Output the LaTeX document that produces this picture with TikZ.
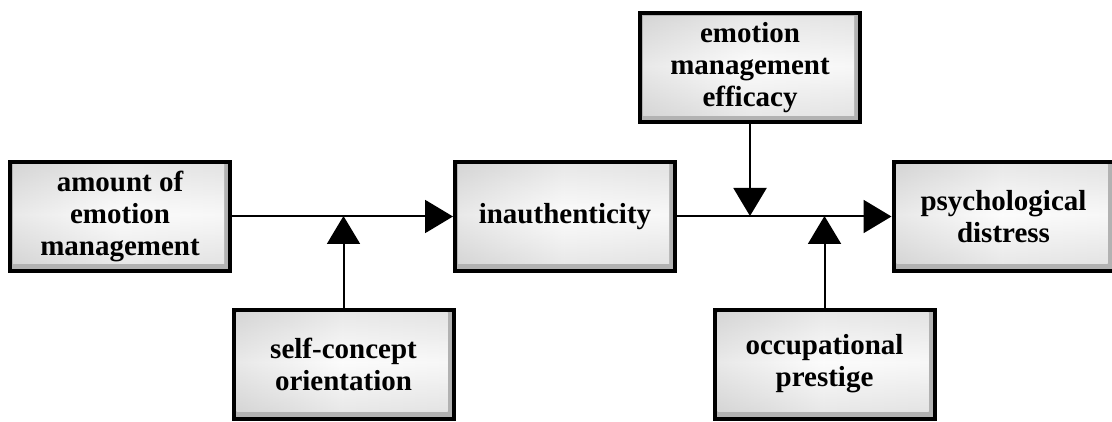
\documentclass[tikz,border=0pt]{standalone}
\usepackage{fontspec}
\setmainfont{Liberation Serif}
\usetikzlibrary{arrows.meta}
\tikzset{
  box/.style={draw=black, line width=4pt, minimum width=220pt, minimum height=109pt,
    inner sep=0pt, align=center, font=\fontsize{29}{32}\selectfont\bfseries,
    path picture={
      \fill[gray!60] (path picture bounding box.south west) rectangle (path picture bounding box.north east);
      \shade[left color=gray!35, right color=gray!12, middle color=gray!5]
        ([shift={(3pt,7pt)}]path picture bounding box.south west) rectangle ([shift={(-6pt,-3pt)}]path picture bounding box.north east);
      \shade[top color=gray!30, bottom color=gray!30, middle color=white, opacity=0.5]
        ([shift={(3pt,7pt)}]path picture bounding box.south west) rectangle ([shift={(-6pt,-3pt)}]path picture bounding box.north east);
    }},
  conn/.style={line width=2pt, -{Triangle[length=28pt,width=33pt]}}
}
\begin{document}
\begin{tikzpicture}[x=1pt,y=1pt]
\useasboundingbox (0,0) rectangle (1112,421);
\node[box] (A) at (120,204.5) {amount of\\emotion\\management};
\node[box] (I) at (565,204.5) {inauthenticity};
\node[box] (P) at (1003.5,204.5) {psychological\\distress};
\node[box] (E) at (750,353) {emotion\\management\\efficacy};
\node[box] (S) at (343.5,57) {self-concept\\orientation};
\node[box] (O) at (824.5,57) {occupational\\prestige};
\coordinate (m1) at (343.5,205);
\coordinate (m2) at (750,205);
\coordinate (m3) at (824.5,205);
\draw[conn] (A.east) -- (I.west);
\draw[conn] (I.east) -- (P.west);
\draw[conn] (S.north) -- (m1);
\draw[conn] (E.south) -- (m2);
\draw[conn] (O.north) -- (m3);
\end{tikzpicture}
\end{document}
